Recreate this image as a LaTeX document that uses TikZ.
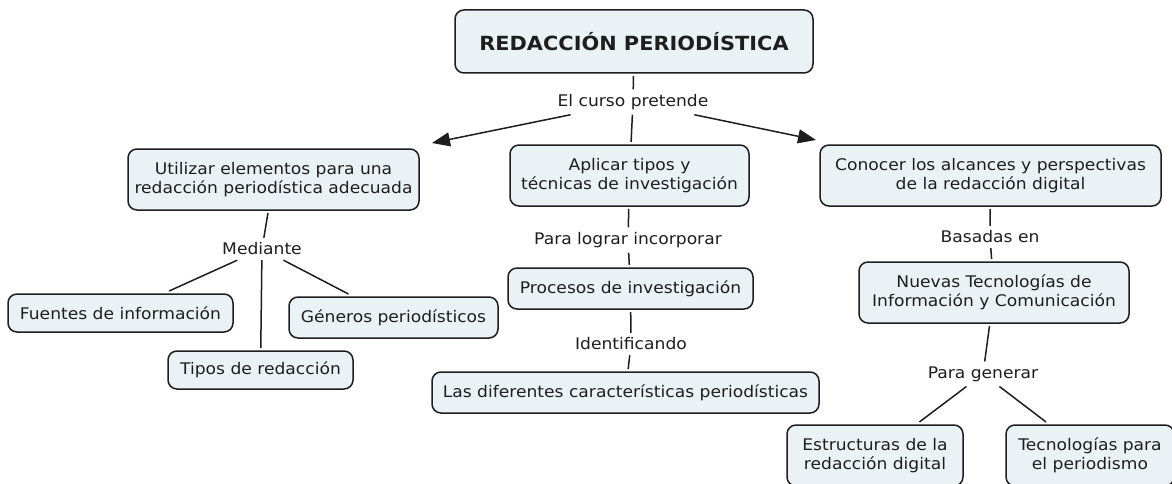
\documentclass[tikz,border=0pt]{standalone}
\usepackage{fontspec}
\setmainfont{DejaVu Sans}[FakeStretch=1.07]
\usetikzlibrary{arrows.meta}
\definecolor{boxfill}{RGB}{235,242,245}
\definecolor{ink}{RGB}{30,30,30}
\begin{document}
\begin{tikzpicture}[x=1pt,y=-1pt,
  font=\fontsize{16}{19.5}\selectfont,
  concept/.style={draw=ink, line width=1.5pt, fill=boxfill, rounded corners=9pt,
    align=center, inner sep=0pt, outer sep=3pt, text=ink},
  link/.style={inner sep=3pt, outer sep=2pt, text=ink},
  conn/.style={draw=ink, line width=1.5pt},
  arr/.style={conn, -{Triangle[length=18pt,width=14pt]}}]
\useasboundingbox (0,0) rectangle (1172,484);
\clip (0,0) rectangle (1172,484);
\fill[white] (0,0) rectangle (1172,484);

\node[concept, minimum width=358pt, minimum height=63pt,
  font=\fontsize{19.5}{24}\selectfont\bfseries] (title) at (634,41.5) {REDACCIÓN PERIODÍSTICA};
\node[link] (cp) at (633,102) {El curso pretende};

\node[concept, minimum width=291pt, minimum height=61pt] (util) at (273.5,179.5)
  {Utilizar elementos para una\\redacción periodística adecuada};
\node[concept, minimum width=239pt, minimum height=61pt] (aplic) at (629.5,175.5)
  {Aplicar tipos y\\técnicas de investigación};
\node[concept, minimum width=341pt, minimum height=61pt] (conoc) at (990.5,175.5)
  {Conocer los alcances y perspectivas\\de la redacción digital};

\node[link] (med) at (262,249) {Mediante};
\node[concept, minimum width=225pt, minimum height=38pt] (fuen) at (120.5,313) {Fuentes de información};
\node[concept, minimum width=209pt, minimum height=41pt] (gen) at (393.5,317.5) {Géneros periodísticos};
\node[concept, minimum width=185pt, minimum height=38pt] (tipos) at (260.5,370) {Tipos de redacción};

\node[link] (plog) at (628,240) {Para lograr incorporar};
\node[concept, minimum width=245pt, minimum height=41pt] (proc) at (630.5,288.5) {Procesos de investigación};
\node[link] (ident) at (631,344) {Identificando};
\node[concept, minimum width=387pt, minimum height=41pt] (lasd) at (625.5,392.5)
  {Las diferentes características periodísticas};

\node[link] (bas) at (990,237) {Basadas en};
\node[concept, minimum width=270pt, minimum height=61pt] (nuev) at (994,292.5)
  {Nuevas Tecnologías de\\Información y Comunicación};
\node[link] (pgen) at (983,374) {Para generar};
\node[concept, minimum width=176pt, minimum height=61pt] (estr) at (875,455.5)
  {Estructuras de la\\redacción digital};
\node[concept, minimum width=168pt, minimum height=61pt] (tecn) at (1090,455.5)
  {Tecnologías para\\el periodismo};

\draw[conn] (title) -- (cp);
\draw[arr] (cp) -- ([xshift=10pt,yshift=3pt]util.north east);
\draw[arr] (cp) -- ([xshift=-1pt,yshift=2pt]conoc.north west);
\draw[conn] (cp) -- (aplic);

\draw[conn] (util) -- (med);
\draw[conn] (med) -- (fuen);
\draw[conn] (med) -- (tipos);
\draw[conn] (med) -- (gen);

\draw[conn] (aplic) -- (plog);
\draw[conn] (plog) -- (proc);
\draw[conn] (proc) -- (ident);
\draw[conn] (ident) -- (lasd);

\draw[conn] (conoc) -- (bas);
\draw[conn] (bas) -- (nuev);
\draw[conn] (nuev) -- (pgen);
\draw[conn] (pgen) -- (estr);
\draw[conn] (pgen) -- (tecn);
\end{tikzpicture}
\end{document}
